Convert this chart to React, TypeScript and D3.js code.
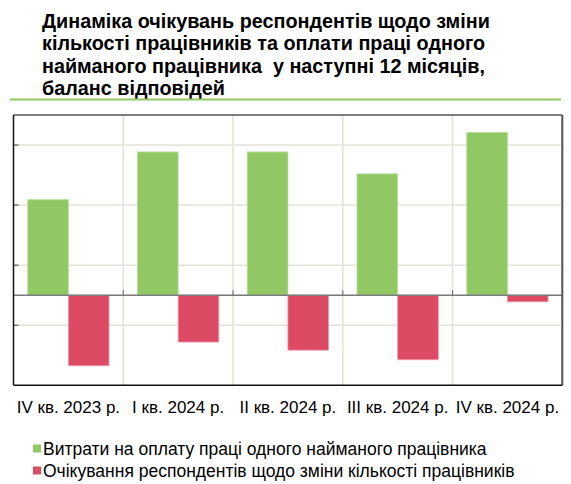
import React from "react";
import * as d3 from "d3";

const titleLines = [
  "Динаміка очікувань респондентів щодо зміни",
  "кількості працівників та оплати праці одного",
  "найманого працівника  у наступні 12 місяців,",
  "баланс відповідей",
];
const categories = ["IV кв. 2023 р.", "I кв. 2024 р.", "II кв. 2024 р.", "III кв. 2024 р.", "IV кв. 2024 р."];
const seriesNames = [
  "Витрати на оплату праці одного найманого працівника",
  "Очікування респондентів щодо зміни кількості працівників",
];
const wageValues = [31.8, 47.7, 47.7, 40.4, 54.2];
const staffValues = [-23.5, -15.6, -18.3, -21.5, -2.2];
const gridTicks = [-10, 10, 30, 50];
const yDomain = [-30, 60];

const colors = ["#92C864", "#DC4A64"];
const strokes = ["#b8dd9a", "#ee9aac"];

export default function App() {
  const W = 571, H = 484;
  const left = 13.5, right = 562.3, top = 115, bottom = 385.3;
  const x = d3.scaleBand<string>().domain(categories).range([left, right]).paddingInner(0).paddingOuter(0);
  const xs = d3.scaleBand<string>().domain(["a", "b"]).range([0, x.bandwidth()]).paddingInner(0).paddingOuter(0.35);
  const y = d3.scaleLinear().domain(yDomain).range([bottom, top]);
  const series = [wageValues, staffValues];
  const keys = ["a", "b"];
  const font = "'Liberation Sans', Arial, sans-serif";

  return (
    <div style={{ position: "absolute", left: 0, top: 0 }}>
      <svg width={W} height={H} style={{ display: "block", fontFamily: font }}>
        <rect width={W} height={H} fill="#fff" />
        {titleLines.map((t, i) => (
          <text
            key={i}
            x={42}
            y={27.5 + i * 22.6}
            fontSize={19.8}
            fontWeight="bold"
            fill="#000"
            style={{ whiteSpace: "pre" }}
          >
            {t}
          </text>
        ))}
        <line x1={10} x2={561} y1={99.5} y2={99.5} stroke="#92C864" strokeWidth={2} />

        {/* vertical gridlines */}
        {categories.slice(1).map((c) => (
          <line key={c} x1={x(c)!} x2={x(c)!} y1={top} y2={bottom} stroke="#e3e3d9" strokeWidth={1.5} />
        ))}
        {/* horizontal gridlines */}
        {gridTicks.map((t) => (
          <line key={t} x1={left} x2={right} y1={y(t)} y2={y(t)} stroke="#e3e3d9" strokeWidth={1.5} />
        ))}

        {/* bars */}
        {series.map((vals, si) =>
          vals.map((v, i) => {
            const bx = x(categories[i])! + xs(keys[si])!;
            const y0 = y(Math.max(0, v));
            const h = Math.abs(y(v) - y(0));
            return (
              <rect
                key={`${si}-${i}`}
                x={bx}
                y={y0}
                width={xs.bandwidth()}
                height={h}
                fill={colors[si]}
                stroke={strokes[si]}
                strokeWidth={0.8}
              />
            );
          })
        )}

        {/* zero axis */}
        <line x1={left} x2={right} y1={y(0)} y2={y(0)} stroke="#7a7a7a" strokeWidth={1.5} />
        {categories.slice(1).map((c) => (
          <line key={"t" + c} x1={x(c)!} x2={x(c)!} y1={y(0) - 5} y2={y(0)} stroke="#666" strokeWidth={1} />
        ))}
        {/* left axis ticks */}
        {gridTicks.map((t) => (
          <line key={"yt" + t} x1={left} x2={left + 5} y1={y(t)} y2={y(t)} stroke="#444" strokeWidth={1} />
        ))}

        {/* plot border */}
        <line x1={left} x2={right} y1={top} y2={top} stroke="#555" strokeWidth={1.5} />
        <line x1={right} x2={right} y1={top} y2={bottom} stroke="#555" strokeWidth={2} />
        <line x1={left} x2={left} y1={top} y2={bottom} stroke="#111" strokeWidth={1.5} />
        <line x1={left} x2={right} y1={bottom} y2={bottom} stroke="#111" strokeWidth={1.5} />

        {/* category labels */}
        {categories.map((c) => (
          <text key={"l" + c} x={x(c)! + x.bandwidth() / 2} y={413.3} fontSize={17} textAnchor="middle" fill="#000">
            {c}
          </text>
        ))}

        {/* legend */}
        {seriesNames.map((n, i) => (
          <g key={n}>
            <rect x={33} y={444.5 + i * 22} width={8} height={8} fill={colors[i]} />
            <text x={43} y={455 + i * 22} fontSize={17.5} fill="#000">
              {n}
            </text>
          </g>
        ))}
      </svg>
    </div>
  );
}
